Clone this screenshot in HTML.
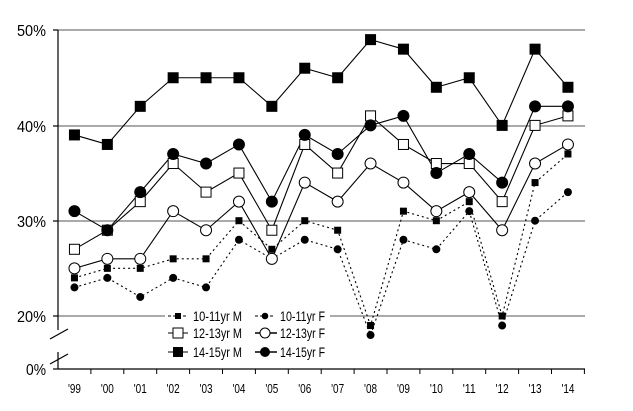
<!DOCTYPE html>
<html><head><style>body{margin:0;background:#fff}</style></head><body>
<svg width="633" height="406" viewBox="0 0 633 406" xmlns="http://www.w3.org/2000/svg" font-family="Liberation Sans Narrow, Liberation Sans, sans-serif">
<g stroke="#777" stroke-width="1.3">
<line x1="58" y1="30" x2="585" y2="30"/><line x1="58" y1="126" x2="585" y2="126"/>
<line x1="58" y1="221" x2="585" y2="221"/><line x1="58" y1="316" x2="585" y2="316"/>
</g>
<g stroke="#000" stroke-width="1.2">
<line x1="58" y1="30" x2="58" y2="330"/><line x1="58" y1="352" x2="58" y2="369"/>
<line x1="58" y1="369" x2="585" y2="369"/>
<line x1="50" y1="339" x2="68" y2="329"/><line x1="50" y1="364" x2="68" y2="354"/>
<line x1="53" y1="30" x2="58" y2="30"/><line x1="53" y1="126" x2="58" y2="126"/><line x1="53" y1="221" x2="58" y2="221"/><line x1="53" y1="316" x2="58" y2="316"/><line x1="53" y1="369" x2="58" y2="369"/>
</g>
<g id="ticks" stroke="#000"></g>
<g font-size="16" fill="#000" lengthAdjust="spacingAndGlyphs">
<text x="17" y="36" textLength="29" lengthAdjust="spacingAndGlyphs">50%</text>
<text x="17" y="132" textLength="29" lengthAdjust="spacingAndGlyphs">40%</text>
<text x="17" y="227" textLength="29" lengthAdjust="spacingAndGlyphs">30%</text>
<text x="17" y="322" textLength="29" lengthAdjust="spacingAndGlyphs">20%</text>
<text x="26" y="375" textLength="20" lengthAdjust="spacingAndGlyphs">0%</text>
</g>
<g id="xl" font-size="12.5"></g>
<g id="series"></g>
<rect x="165" y="306" width="165" height="56" fill="#fff"/>
<g font-size="14">
<line x1="168" y1="316" x2="188" y2="316" stroke="#000" stroke-dasharray="3,2"/><rect x="175" y="313" width="6" height="6"/>
<text x="193" y="321" textLength="49" lengthAdjust="spacingAndGlyphs">10-11yr M</text>
<line x1="255" y1="316" x2="275" y2="316" stroke="#000" stroke-dasharray="3,2"/><circle cx="265" cy="316" r="3.3"/>
<text x="280" y="321" textLength="45" lengthAdjust="spacingAndGlyphs">10-11yr F</text>
<line x1="168" y1="333" x2="188" y2="333" stroke="#000"/><rect x="173" y="328" width="10" height="10" fill="#fff" stroke="#000"/>
<text x="193" y="338" textLength="49" lengthAdjust="spacingAndGlyphs">12-13yr M</text>
<line x1="255" y1="333" x2="277" y2="333" stroke="#000" stroke-width="1.5"/><circle cx="265" cy="333" r="5" fill="#fff" stroke="#000"/>
<text x="280" y="338" textLength="45" lengthAdjust="spacingAndGlyphs">12-13yr F</text>
<line x1="168" y1="352" x2="188" y2="352" stroke="#000"/><rect x="173" y="347" width="10" height="10"/>
<text x="193" y="357" textLength="49" lengthAdjust="spacingAndGlyphs">14-15yr M</text>
<line x1="255" y1="352" x2="277" y2="352" stroke="#000" stroke-width="1.5"/><circle cx="265" cy="352" r="5"/>
<text x="280" y="357" textLength="45" lengthAdjust="spacingAndGlyphs">14-15yr F</text>
</g>
</svg>
<script>
const NS="http://www.w3.org/2000/svg";
const X=i=>58+32.9*(i+0.5), Y=v=>316-(v-20)*9.53;
function el(p,t,a){const e=document.createElementNS(NS,t);for(const k in a)e.setAttribute(k,a[k]);p.appendChild(e);return e;}
const tk=document.getElementById('ticks');
for(let k=1;k<=16;k++){const x=58+32.9*k;el(tk,'line',{x1:x,y1:369,x2:x,y2:374});}
const xl=document.getElementById('xl');
const labs=["'99","'00","'01","'02","'03","'04","'05","'06","'07","'08","'09","'10","'11","'12","'13","'14"];
labs.forEach((l,i)=>{el(xl,'text',{x:X(i)-6.5,y:393,textLength:13,lengthAdjust:'spacingAndGlyphs'}).textContent=l;});
const S=[
{d:[24,25,25,26,26,30,27,30,29,19,31,30,32,20,34,37],dash:"2,3",m:'sq',s:6,f:'#000'},
{d:[23,24,22,24,23,28,26,28,27,18,28,27,31,19,30,33],dash:"2,3",m:'c',s:3.5,f:'#000'},
{d:[27,29,32,36,33,35,29,38,35,41,38,36,36,32,40,41],m:'sq',s:10,f:'#fff'},
{d:[25,26,26,31,29,32,26,34,32,36,34,31,33,29,36,38],m:'c',s:5.5,f:'#fff'},
{d:[31,29,33,37,36,38,32,39,37,40,41,35,37,34,42,42],m:'c',s:5.5,f:'#000'},
{d:[39,38,42,45,45,45,42,46,45,49,48,44,45,40,48,44],m:'sq',s:10,f:'#000'}];
const g=document.getElementById('series');
S.forEach(s=>{const a={points:s.d.map((v,i)=>X(i)+','+Y(v)).join(' '),fill:'none',stroke:'#000','stroke-width':1.1};if(s.dash)a['stroke-dasharray']=s.dash;el(g,'polyline',a);});
S.forEach(s=>{s.d.forEach((v,i)=>{if(s.m=='sq')el(g,'rect',{x:X(i)-s.s/2,y:Y(v)-s.s/2,width:s.s,height:s.s,fill:s.f,stroke:'#000'});else el(g,'circle',{cx:X(i),cy:Y(v),r:s.s,fill:s.f,stroke:'#000'});});});
</script>
</body></html>
